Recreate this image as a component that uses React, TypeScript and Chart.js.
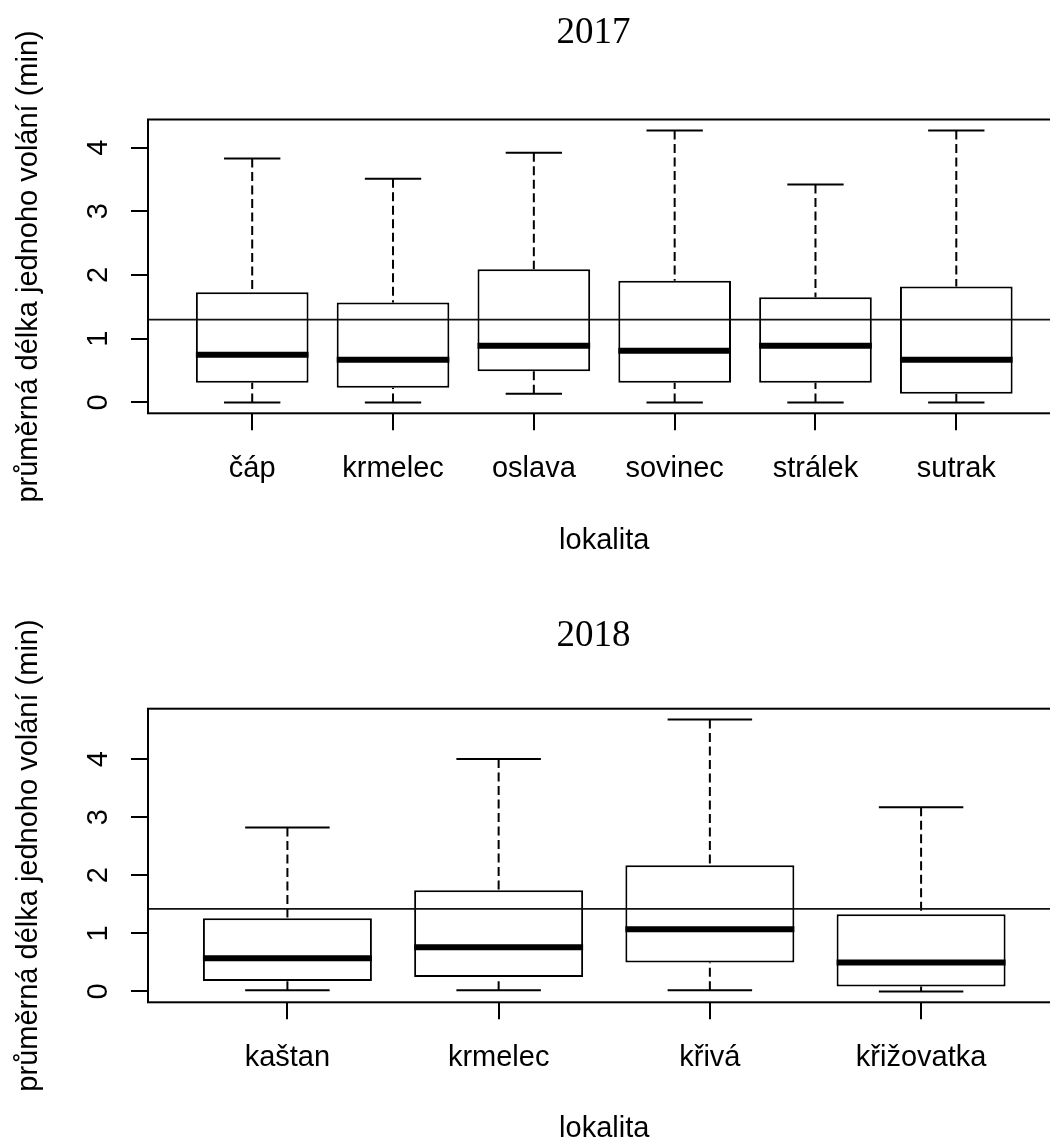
import React, { useEffect, useRef } from 'react';
import { Chart, registerables } from 'chart.js';

Chart.register(...registerables);

// ---- 2017 ----
const categories2017 = ['čáp', 'krmelec', 'oslava', 'sovinec', 'strálek', 'sutrak'];
const whiskerLow2017 = [0, 0, 0.135, 0, 0, 0];
const q1_2017 = [0.31, 0.23, 0.49, 0.31, 0.31, 0.135];
const median2017 = [0.75, 0.67, 0.89, 0.81, 0.89, 0.67];
const q3_2017 = [1.73, 1.57, 2.09, 1.91, 1.65, 1.82];
const whiskerHigh2017 = [3.83, 3.51, 3.92, 4.27, 3.42, 4.27];
const refLine2017 = 1.3;

// ---- 2018 ----
const categories2018 = ['kaštan', 'krmelec', 'křivá', 'křižovatka'];
const whiskerLow2018 = [0.02, 0.02, 0.02, 0];
const q1_2018 = [0.18, 0.25, 0.5, 0.086];
const median2018 = [0.57, 0.76, 1.07, 0.5];
const q3_2018 = [1.26, 1.74, 2.17, 1.33];
const whiskerHigh2018 = [2.82, 4.0, 4.68, 3.17];
const refLine2018 = 1.42;

// ---- axes ----
const yTickValues = [0, 1, 2, 3, 4];
const yTickLabels = ['0', '1', '2', '3', '4'];
const yAxisTitle = 'průměrná délka jednoho volání (min)';
const xAxisTitle = 'lokalita';

const SANS = '"Liberation Sans", Arial, sans-serif';
const SERIF = '"Liberation Serif", "Times New Roman", serif';

type PanelProps = {
  title: string;
  categories: string[];
  low: number[];
  q1: number[];
  med: number[];
  q3: number[];
  high: number[];
  refLine: number;
  canvasHeight: number;
  plotTop: number;
  plotBottom: number;
  titleBaseline: number;
  xTitleBaseline: number;
};

const CANVAS_W = 1062;
const PLOT_LEFT = 148;

function BoxPanel(p: PanelProps) {
  const ref = useRef<HTMLCanvasElement>(null);

  useEffect(() => {
    if (!ref.current) return;
    const n = p.categories.length;
    const maxV = Math.max(...p.high);
    const minV = Math.min(...p.low);
    const yPad = (maxV - minV) * 0.04;
    const xPad = n * 0.04;

    const boxPlugin = {
      id: 'boxExtras',
      afterDatasetsDraw(chart: any) {
        const { ctx, chartArea } = chart;
        const xs = chart.scales.x;
        const ys = chart.scales.y;
        const meta = chart.getDatasetMeta(0);
        ctx.save();
        ctx.strokeStyle = '#000';
        ctx.lineCap = 'butt';
        for (let i = 0; i < n; i++) {
          const el = meta.data[i];
          const w = el.width;
          const cx = xs.getPixelForValue(i + 1);
          const yLow = ys.getPixelForValue(p.low[i]);
          const yQ1 = ys.getPixelForValue(p.q1[i]);
          const yMed = ys.getPixelForValue(p.med[i]);
          const yQ3 = ys.getPixelForValue(p.q3[i]);
          const yHigh = ys.getPixelForValue(p.high[i]);
          // dashed whiskers
          ctx.lineWidth = 2;
          ctx.setLineDash([9, 4.5]);
          ctx.beginPath();
          ctx.moveTo(cx, yHigh);
          ctx.lineTo(cx, yQ3);
          ctx.stroke();
          ctx.beginPath();
          ctx.moveTo(cx, yLow);
          ctx.lineTo(cx, yQ1);
          ctx.stroke();
          ctx.setLineDash([]);
          // staples
          ctx.beginPath();
          ctx.moveTo(cx - w / 4, yHigh);
          ctx.lineTo(cx + w / 4, yHigh);
          ctx.moveTo(cx - w / 4, yLow);
          ctx.lineTo(cx + w / 4, yLow);
          ctx.stroke();
          // median
          ctx.lineWidth = 6;
          ctx.beginPath();
          ctx.moveTo(cx - w / 2, yMed);
          ctx.lineTo(cx + w / 2, yMed);
          ctx.stroke();
        }
        // reference horizontal line
        const yr = ys.getPixelForValue(p.refLine);
        ctx.lineWidth = 1.7;
        ctx.strokeStyle = '#111';
        ctx.beginPath();
        ctx.moveTo(chartArea.left, yr);
        ctx.lineTo(chartArea.right, yr);
        ctx.stroke();
        ctx.restore();
      },
      afterDraw(chart: any) {
        const { ctx, chartArea } = chart;
        const xs = chart.scales.x;
        const ys = chart.scales.y;
        ctx.save();
        // plot frame
        ctx.strokeStyle = '#000';
        ctx.lineWidth = 2;
        ctx.strokeRect(chartArea.left, chartArea.top, chartArea.right - chartArea.left, chartArea.bottom - chartArea.top);

        ctx.fillStyle = '#000';
        // title
        ctx.font = `37px ${SERIF}`;
        ctx.textAlign = 'center';
        ctx.textBaseline = 'alphabetic';
        ctx.fillText(p.title, 593.5, p.titleBaseline);

        // x tick labels
        ctx.font = `29px ${SANS}`;
        for (let i = 0; i < n; i++) {
          ctx.fillText(p.categories[i], xs.getPixelForValue(i + 1), chartArea.bottom + 63.8);
        }
        // x axis title
        ctx.fillText(xAxisTitle, (chartArea.left + chartArea.right) / 2, p.xTitleBaseline);

        // y tick labels (rotated)
        for (let k = 0; k < yTickValues.length; k++) {
          const yy = ys.getPixelForValue(yTickValues[k]);
          ctx.save();
          ctx.translate(107.3, yy);
          ctx.rotate(-Math.PI / 2);
          ctx.fillText(yTickLabels[k], 0, 0);
          ctx.restore();
        }
        // y axis title
        ctx.save();
        ctx.translate(36.6, (chartArea.top + chartArea.bottom) / 2);
        ctx.rotate(-Math.PI / 2);
        ctx.fillText(yAxisTitle, 0, 0);
        ctx.restore();
        ctx.restore();
      },
    };

    const gridCfg = {
      display: true,
      offset: false,
      drawOnChartArea: false,
      drawTicks: true,
      tickLength: 17,
      tickWidth: 2,
      tickColor: '#000',
      lineWidth: 2,
      color: '#000',
    };

    const chart = new Chart(ref.current, {
      type: 'bar',
      data: {
        datasets: [
          {
            data: p.categories.map((_, i) => ({ x: i + 1, y: [p.q1[i], p.q3[i]] })) as any,
            backgroundColor: '#ffffff',
            borderColor: '#000000',
            borderWidth: 2,
            borderSkipped: false,
            barPercentage: 0.8,
            categoryPercentage: 1,
          },
        ],
      },
      options: {
        responsive: false,
        animation: false,
        devicePixelRatio: 1,
        events: [],
        layout: { padding: { top: p.plotTop, right: 1.5, left: 0, bottom: 0 } },
        plugins: {
          legend: { display: false },
          tooltip: { enabled: false },
          title: { display: false },
        },
        scales: {
          x: {
            type: 'linear',
            min: 0.5 - xPad,
            max: n + 0.5 + xPad,
            offset: false,
            afterBuildTicks: (s: any) => {
              s.ticks = p.categories.map((_, i) => ({ value: i + 1 }));
            },
            afterFit: (s: any) => {
              s.height = p.canvasHeight - p.plotBottom;
            },
            ticks: { display: false },
            grid: gridCfg,
            border: { display: false },
          },
          y: {
            type: 'linear',
            min: minV - yPad,
            max: maxV + yPad,
            afterBuildTicks: (s: any) => {
              s.ticks = yTickValues.map((v) => ({ value: v }));
            },
            afterFit: (s: any) => {
              s.width = PLOT_LEFT;
            },
            ticks: { display: false },
            grid: gridCfg,
            border: { display: false },
          },
        },
      } as any,
      plugins: [boxPlugin],
    });
    return () => chart.destroy();
  }, []);

  return (
    <canvas
      ref={ref}
      width={CANVAS_W}
      height={p.canvasHeight}
      style={{ display: 'block', width: CANVAS_W, height: p.canvasHeight }}
    />
  );
}

export default function App() {
  useEffect(() => {
    document.body.style.margin = '0';
    document.body.style.overflow = 'hidden';
  }, []);
  return (
    <div
      style={{
        position: 'absolute',
        left: 0,
        top: 0,
        width: 1050,
        height: 1140,
        overflow: 'hidden',
        background: '#fff',
      }}
    >
      <div style={{ position: 'absolute', left: 0, top: 0 }}>
        <BoxPanel
          title="2017"
          categories={categories2017}
          low={whiskerLow2017}
          q1={q1_2017}
          med={median2017}
          q3={q3_2017}
          high={whiskerHigh2017}
          refLine={refLine2017}
          canvasHeight={590}
          plotTop={119.5}
          plotBottom={413.3}
          titleBaseline={43}
          xTitleBaseline={548.5}
        />
      </div>
      <div style={{ position: 'absolute', left: 0, top: 590 }}>
        <BoxPanel
          title="2018"
          categories={categories2018}
          low={whiskerLow2018}
          q1={q1_2018}
          med={median2018}
          q3={q3_2018}
          high={whiskerHigh2018}
          refLine={refLine2018}
          canvasHeight={550}
          plotTop={118.7}
          plotBottom={412.3}
          titleBaseline={56}
          xTitleBaseline={547.3}
        />
      </div>
    </div>
  );
}
